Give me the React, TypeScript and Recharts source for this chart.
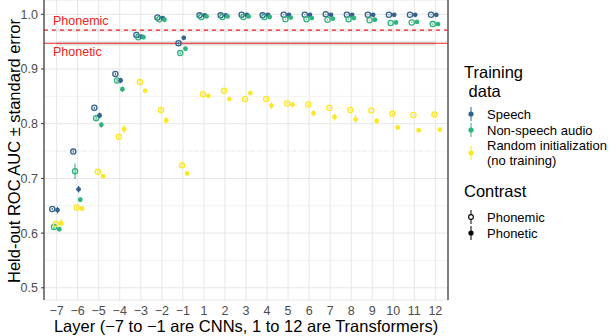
import { ComposedChart, Scatter, ErrorBar, XAxis, YAxis, CartesianGrid, ReferenceLine, ReferenceArea } from 'recharts';

const layers = ['−7', '−6', '−5', '−4', '−3', '−2', '−1', '1', '2', '3', '4', '5', '6', '7', '8', '9', '10', '11', '12'];
const yTicks = [0.5, 0.6, 0.7, 0.8, 0.9, 1.0];

// Speech
const speechPhonemic = [0.644, 0.749, 0.829, 0.891, 0.962, 0.994, 0.947, 0.998, 0.998, 0.999, 0.998, 0.999, 0.999, 1.0, 0.999, 0.999, 0.999, 0.999, 0.999];
const speechPhonemicSe = [0.002, 0.002, 0.002, 0.002, 0.002, 0.001, 0.002, 0.001, 0.001, 0.001, 0.001, 0.001, 0.001, 0.001, 0.001, 0.001, 0.001, 0.001, 0.001];
const speechPhonetic = [0.642, 0.68, 0.815, 0.879, 0.959, 0.993, 0.957, 0.998, 0.998, 0.999, 0.999, 0.999, 0.999, 0.999, 0.999, 0.999, 0.999, 0.999, 0.999];
const speechPhoneticSe = [0.006, 0.006, 0.005, 0.005, 0.002, 0.001, 0.002, 0.001, 0.001, 0.001, 0.001, 0.001, 0.001, 0.001, 0.001, 0.001, 0.001, 0.001, 0.001];
// Non-speech audio
const nonPhonemic = [0.611, 0.713, 0.81, 0.879, 0.958, 0.991, 0.929, 0.995, 0.995, 0.995, 0.995, 0.991, 0.991, 0.99, 0.991, 0.989, 0.984, 0.985, 0.982];
const nonPhonemicSe = [0.003, 0.014, 0.004, 0.003, 0.002, 0.001, 0.002, 0.001, 0.001, 0.001, 0.001, 0.001, 0.001, 0.001, 0.001, 0.001, 0.001, 0.001, 0.001];
const nonPhonetic = [0.607, 0.661, 0.798, 0.863, 0.958, 0.99, 0.937, 0.996, 0.996, 0.996, 0.995, 0.994, 0.993, 0.992, 0.993, 0.99, 0.985, 0.986, 0.982];
const nonPhoneticSe = [0.003, 0.004, 0.005, 0.005, 0.002, 0.001, 0.002, 0.001, 0.001, 0.001, 0.001, 0.001, 0.001, 0.001, 0.001, 0.001, 0.001, 0.001, 0.001];
// Random initialization
const randPhonemic = [0.617, 0.647, 0.712, 0.776, 0.876, 0.825, 0.724, 0.854, 0.86, 0.845, 0.845, 0.837, 0.835, 0.829, 0.825, 0.824, 0.818, 0.816, 0.817];
const randPhonemicSe = [0.004, 0.003, 0.003, 0.004, 0.003, 0.003, 0.004, 0.002, 0.002, 0.002, 0.002, 0.002, 0.002, 0.002, 0.002, 0.002, 0.002, 0.002, 0.002];
const randPhonetic = [0.618, 0.645, 0.704, 0.79, 0.86, 0.806, 0.709, 0.851, 0.845, 0.856, 0.833, 0.835, 0.819, 0.812, 0.808, 0.805, 0.793, 0.788, 0.789];
const randPhoneticSe = [0.008, 0.004, 0.003, 0.007, 0.004, 0.006, 0.004, 0.002, 0.002, 0.002, 0.006, 0.005, 0.006, 0.006, 0.008, 0.005, 0.002, 0.002, 0.002];

const phonemicCeiling = 0.971;
const phonemicBand = [0.968, 0.973];
const phoneticCeiling = 0.947;
const phoneticBand = [0.943, 0.951];

const BLUE = '#33638d';
const GREEN = '#2fb47c';
const YELLOW = '#fde725';
const RED = '#ee2222';
const FONT = '"Liberation Sans", Arial, sans-serif';

const series = [
  { name: 'sp-m', vals: speechPhonemic, se: speechPhonemicSe, color: BLUE, hollow: true, dodge: -0.208 },
  { name: 'ns-m', vals: nonPhonemic, se: nonPhonemicSe, color: GREEN, hollow: true, dodge: -0.125 },
  { name: 'rd-m', vals: randPhonemic, se: randPhonemicSe, color: YELLOW, hollow: true, dodge: -0.042 },
  { name: 'sp-t', vals: speechPhonetic, se: speechPhoneticSe, color: BLUE, hollow: false, dodge: 0.042 },
  { name: 'ns-t', vals: nonPhonetic, se: nonPhoneticSe, color: GREEN, hollow: false, dodge: 0.125 },
  { name: 'rd-t', vals: randPhonetic, se: randPhoneticSe, color: YELLOW, hollow: false, dodge: 0.208 },
];

const minorY = yTicks.slice(1).map((t, i) => (t + yTicks[i]) / 2);

function dot(color: string, hollow: boolean) {
  return (p: any) =>
    hollow ? (
      <circle cx={p.cx} cy={p.cy} r={2.6} fill="none" stroke={color} strokeWidth={1.3} />
    ) : (
      <circle cx={p.cx} cy={p.cy} r={2.4} fill={color} stroke="none" />
    );
}

function Key({ color, hollow }: { color: string; hollow: boolean }) {
  return (
    <svg width={12} height={16} style={{ display: 'block' }}>
      <line x1={6} y1={1} x2={6} y2={15} stroke={color} strokeWidth={1} />
      {hollow ? (
        <circle cx={6} cy={8} r={2.4} fill="#fff" stroke={color} strokeWidth={1.1} />
      ) : (
        <circle cx={6} cy={8} r={2.6} fill={color} />
      )}
    </svg>
  );
}

export default function App() {
  return (
    <div style={{ position: 'absolute', left: 0, top: 0, width: 616, height: 336, background: '#fff', fontFamily: FONT }}>
      <ComposedChart width={616} height={336} margin={{ top: 0, right: 168, bottom: 0, left: 0 }}>
        <CartesianGrid stroke="#e6e6e6" strokeWidth={1} />
        {minorY.map((v) => (
          <ReferenceLine key={v} y={v} stroke="#ededed" strokeWidth={0.7} />
        ))}
        <XAxis
          type="number"
          dataKey="x"
          domain={[-0.6, 18.6]}
          ticks={layers.map((_, i) => i)}
          tickFormatter={(i: number) => layers[i]}
          interval={0}
          axisLine={false}
          tickLine={false}
          tickSize={4}
          tickMargin={2}
          height={36}
          tick={{ fill: '#4d4d4d', fontSize: 12.5, fontFamily: FONT }}
          allowDataOverflow
        />
        <YAxis
          type="number"
          dataKey="y"
          domain={[0.4777, 1.0261]}
          ticks={yTicks}
          tickFormatter={(v: number) => v.toFixed(1)}
          width={44}
          axisLine={{ stroke: '#333', strokeWidth: 1.2 }}
          tickLine={{ stroke: '#333' }}
          tickSize={3}
          tickMargin={3}
          tick={{ fill: '#4d4d4d', fontSize: 12.5, fontFamily: FONT }}
          allowDataOverflow
        />
        <ReferenceLine x={18.6} stroke="#333" strokeWidth={1.2} />
        <ReferenceArea x1={0} x2={18} y1={phonemicBand[0]} y2={phonemicBand[1]} fill="#bdbdbd" fillOpacity={0.35} stroke="none" />
        <ReferenceArea x1={0} x2={18} y1={phoneticBand[0]} y2={phoneticBand[1]} fill="#bdbdbd" fillOpacity={0.5} stroke="none" />
        <ReferenceLine
          segment={[{ x: 0, y: 0.75 }, { x: 18, y: 0.75 }]}
          stroke="#d9d9d9"
          strokeDasharray="1 6"
        />
        <ReferenceLine y={phonemicCeiling} stroke={RED} strokeWidth={1.1} strokeDasharray="4 4" />
        <ReferenceLine y={phoneticCeiling} stroke={RED} strokeWidth={1.1} />
        {series.map((s) => (
          <Scatter
            key={s.name}
            data={s.vals.map((v, i) => ({ x: i + s.dodge, y: v, e: s.se[i] }))}
            shape={dot(s.color, s.hollow)}
            isAnimationActive={false}
          >
            <ErrorBar dataKey="e" direction="y" width={0} stroke={s.color} strokeWidth={1.1} />
          </Scatter>
        ))}
      </ComposedChart>

      <div style={{ position: 'absolute', left: 53, top: 14, color: RED, fontSize: 12.5 }}>Phonemic</div>
      <div style={{ position: 'absolute', left: 53, top: 45, color: RED, fontSize: 12.5 }}>Phonetic</div>

      <div
        style={{
          position: 'absolute',
          left: 14,
          top: 151,
          transform: 'translate(-50%, -50%) rotate(-90deg)',
          whiteSpace: 'nowrap',
          fontSize: 16.5,
          color: '#000',
        }}
      >
        Held-out ROC AUC ± standard error
      </div>
      <div
        style={{
          position: 'absolute',
          left: 246,
          top: 326,
          transform: 'translate(-50%, -50%)',
          whiteSpace: 'nowrap',
          fontSize: 16.5,
          color: '#000',
        }}
      >
        Layer (−7 to −1 are CNNs, 1 to 12 are Transformers)
      </div>

      <div style={{ position: 'absolute', left: 464, top: 63, fontSize: 16.5, lineHeight: '19px', whiteSpace: 'pre' }}>
        {'Training\n data'}
      </div>
      <div style={{ position: 'absolute', left: 465, top: 106, fontSize: 13, lineHeight: '15px' }}>
        {[
          { label: 'Speech', color: BLUE },
          { label: 'Non-speech audio', color: GREEN },
          { label: 'Random initialization\n(no training)', color: YELLOW },
        ].map((it) => (
          <div key={it.label} style={{ display: 'flex', alignItems: 'center', marginBottom: 0 }}>
            <div style={{ width: 22 }}>
              <Key color={it.color} hollow={false} />
            </div>
            <div style={{ whiteSpace: 'pre' }}>{it.label}</div>
          </div>
        ))}
      </div>
      <div style={{ position: 'absolute', left: 464, top: 182, fontSize: 16.5 }}>Contrast</div>
      <div style={{ position: 'absolute', left: 465, top: 209, fontSize: 13, lineHeight: '15px' }}>
        {[
          { label: 'Phonemic', hollow: true },
          { label: 'Phonetic', hollow: false },
        ].map((it) => (
          <div key={it.label} style={{ display: 'flex', alignItems: 'center' }}>
            <div style={{ width: 22 }}>
              <Key color="#000" hollow={it.hollow} />
            </div>
            <div>{it.label}</div>
          </div>
        ))}
      </div>
    </div>
  );
}
